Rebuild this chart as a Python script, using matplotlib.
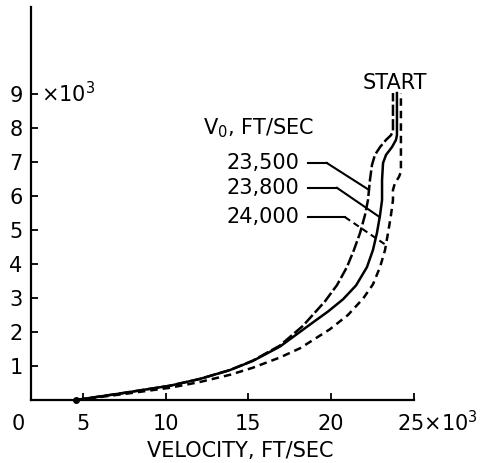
import numpy as np
import matplotlib
matplotlib.use("Agg")
import matplotlib.pyplot as plt

plt.rcParams["font.family"] = "DejaVu Sans"
plt.rcParams["mathtext.default"] = "regular"

# velocity (x10^3 ft/sec) vs height (x10^3) for three entry velocities
v_23500 = [4.58, 7.24, 10.26, 12.07, 13.88, 15.27, 16.9, 18.29, 19.62, 20.35,
           20.95, 21.37, 21.74, 22.04, 22.22, 22.34, 22.46, 22.64, 22.95, 23.31,
           23.61, 23.73, 23.73]
h_23500 = [0.0, 0.19, 0.42, 0.62, 0.88, 1.16, 1.6, 2.18, 2.9, 3.38,
           3.91, 4.41, 4.91, 5.44, 5.88, 6.47, 6.91, 7.21, 7.44, 7.65,
           7.79, 7.91, 9.03]

v_23800 = [4.58, 7.24, 10.26, 12.07, 13.88, 15.27, 16.9, 18.72, 19.8, 20.71,
           21.5, 22.16, 22.52, 22.76, 22.95, 23.07, 23.07, 23.13, 23.31, 23.67,
           23.91, 23.97, 23.97]
h_23800 = [0.0, 0.19, 0.42, 0.62, 0.88, 1.15, 1.57, 2.22, 2.6, 2.96,
           3.37, 3.91, 4.41, 4.91, 5.44, 5.88, 6.47, 6.97, 7.21, 7.44,
           7.65, 7.79, 9.03]

v_24000 = [4.58, 7.24, 10.26, 12.07, 13.88, 15.27, 16.9, 18.11, 19.92, 21.01,
           21.92, 22.52, 22.95, 23.25, 23.43, 23.61, 23.73, 23.73, 23.85, 24.09,
           24.21, 24.21]
h_24000 = [0.0, 0.16, 0.36, 0.53, 0.74, 0.95, 1.25, 1.52, 2.08, 2.5,
           2.98, 3.4, 3.91, 4.41, 4.91, 5.44, 5.88, 6.18, 6.38, 6.56,
           6.71, 9.03]

labels = ["23,500", "23,800", "24,000"]
label_h = [6.97, 6.24, 5.38]        # height of each leader
leader_h = [6.18, 5.38, 4.56]       # where each leader meets its curve

fig = plt.figure(figsize=(4.8, 4.63), dpi=100)
ax = fig.add_axes([31 / 480, 63 / 463, 383 / 480, 393 / 463])

lw = 1.8
ax.plot(v_23500, h_23500, color="black", lw=lw, ls=(0, (4.5, 1.3)))
ax.plot(v_23800, h_23800, color="black", lw=lw, ls="-")
ax.plot(v_24000, h_24000, color="black", lw=lw, ls=(0, (3, 2)))
ax.plot([v_23800[0]], [0], "o", color="black", ms=4, clip_on=False)

ax.set_xlim(1.87, 25)
ax.set_ylim(0, 11.56)
for s in ["top", "right"]:
    ax.spines[s].set_visible(False)
ax.spines["left"].set_linewidth(1.6)
ax.spines["bottom"].set_linewidth(1.6)

fs = 15
ax.set_xticks([5, 10, 15, 20, 25])
ax.set_xticklabels(["5", "10", "15", "20", ""])
ax.set_yticks(range(1, 10))
ax.tick_params(direction="in", length=5, width=1.3, labelsize=fs)
ax.tick_params(axis="x", pad=10)
ax.tick_params(axis="y", pad=6)

ax.annotate("25×10$^3$", xy=(25, 0), xycoords=ax.get_xaxis_transform(),
            xytext=(-12, -7.5), textcoords="offset points",
            ha="left", va="top", fontsize=fs)
ax.annotate("0", xy=(0, 0), xycoords="axes fraction",
            xytext=(-9.5, -10), textcoords="offset points",
            ha="center", va="top", fontsize=fs)
ax.annotate("×10$^3$", xy=(0, 9), xycoords=ax.get_yaxis_transform(),
            xytext=(7, 0), textcoords="offset points",
            ha="left", va="center", fontsize=fs)

ax.set_xlabel("VELOCITY, FT/SEC", fontsize=fs)
ax.xaxis.set_label_coords(0.546, -0.105)

ax.text(12.25, 8.0, "V$_0$, FT/SEC", fontsize=fs, ha="left", va="center")
ax.text(23.85, 9.32, "START", fontsize=fs, ha="center", va="center")

curves = [(v_23500, h_23500), (v_23800, h_23800), (v_24000, h_24000)]
knee_x = [19.74, 20.35, 20.83]
for i, (lab, yh, yl) in enumerate(zip(labels, label_h, leader_h)):
    ax.text(18.05, yh, lab, fontsize=fs, ha="right", va="center")
    v, h = curves[i]
    xe = np.interp(yl, h, v)
    ax.plot([18.6, knee_x[i]], [yh, yh], color="black", lw=1.5)
    ax.plot([knee_x[i], xe], [yh, yl], color="black", lw=1.5,
            ls="-" if i < 2 else (0, (3, 2)))

fig.savefig("out.png", dpi=100)
